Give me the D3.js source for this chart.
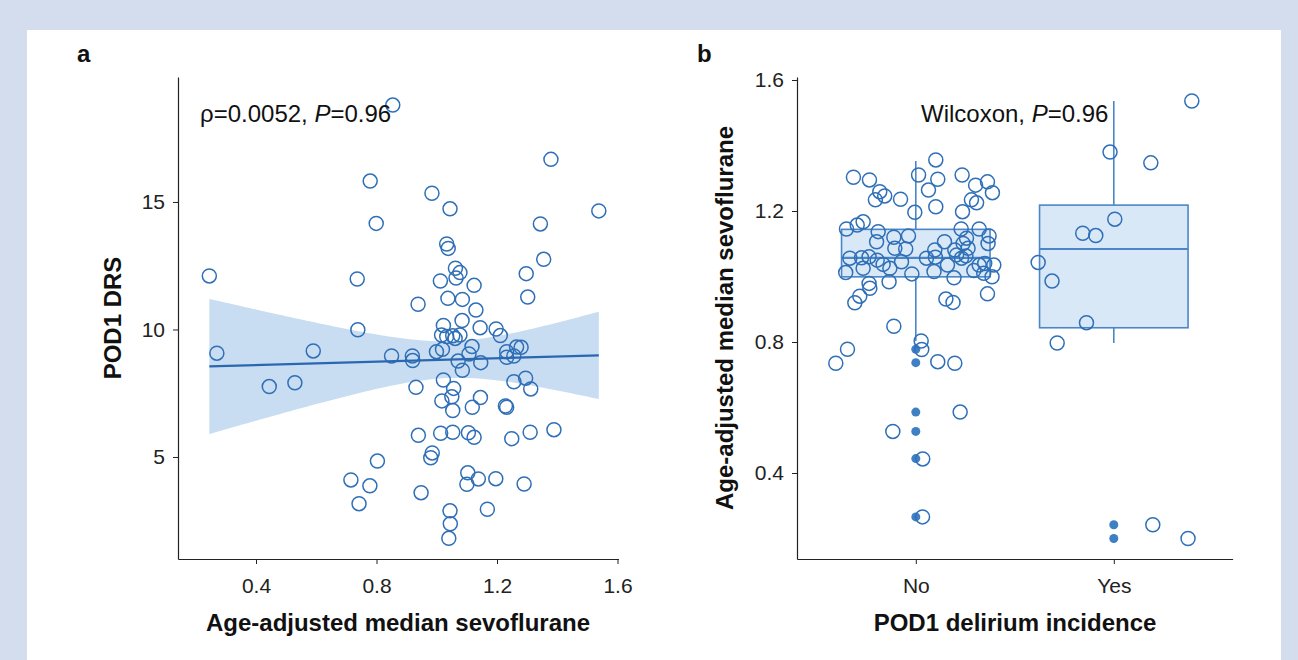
<!DOCTYPE html>
<html><head><meta charset="utf-8">
<script src="https://cdn.jsdelivr.net/npm/d3@7"></script>
<style>body{margin:0;background:#d4ddee;}svg{display:block;font-family:"Liberation Sans",Arial,sans-serif;}</style>
</head><body>
<svg id="c" width="1298" height="660"></svg>
<script>
// ---------- Panel a data ----------
const sevoA = [0.854,1.379,0.779,0.984,1.044,1.538,0.799,1.344,1.033,1.038,1.355,0.245,0.736,1.062,1.077,1.064,1.012,1.124,1.297,1.302,1.037,1.085,0.938,1.130,1.084,0.738,1.022,1.144,1.197,1.211,1.016,1.033,1.053,1.077,1.061,0.270,0.590,0.850,0.919,0.920,0.999,1.019,1.117,1.107,1.071,1.146,1.085,1.232,1.265,1.280,1.256,1.232,0.444,0.529,0.931,1.022,1.056,1.050,1.017,1.053,1.145,1.118,1.256,1.295,1.312,1.228,1.232,0.939,1.013,1.053,1.105,1.124,1.249,1.310,1.389,0.985,0.980,0.803,0.715,0.778,0.742,0.948,1.103,1.100,1.138,1.196,1.290,1.044,1.045,1.040,1.168];
const drsA = [18.80,16.67,15.82,15.34,14.73,14.65,14.16,14.14,13.35,13.18,12.75,12.10,11.98,12.40,12.23,12.02,11.90,11.73,12.19,11.27,11.22,11.18,10.99,10.76,10.35,9.99,10.16,10.07,10.02,9.76,9.78,9.72,9.75,9.78,9.65,9.07,9.16,8.96,8.96,8.78,9.13,9.22,9.33,9.04,8.76,8.70,8.40,9.13,9.31,9.30,8.96,8.91,7.76,7.91,7.73,8.02,7.69,7.36,7.20,6.82,7.33,6.95,7.95,8.09,7.67,7.00,6.95,5.85,5.93,5.97,5.95,5.77,5.72,5.97,6.07,5.16,4.97,4.84,4.10,3.87,3.17,3.60,4.38,3.93,4.14,4.15,3.94,2.89,2.38,1.81,2.95];
// linear fit (intercept, slope) and CI half-width^2 = a + b*(x-c)^2
const fitCoef = [8.468, 0.336];
const ciParams = [0.52, 10.08, 1.048];
const xTicksA = [0.4, 0.8, 1.2, 1.6];
const yTicksA = [5, 10, 15];
const annotA = "ρ=0.0052, ";

// ---------- Panel b data ----------
const groupsB = ["No", "Yes"];
const noJit = [0.101,-0.315,-0.234,0.014,0.111,0.234,0.302,0.362,0.387,-0.182,-0.157,-0.204,-0.077,0.064,0.281,0.307,0.101,-0.005,0.236,-0.350,-0.296,-0.266,-0.190,-0.198,-0.111,-0.037,-0.106,-0.051,0.145,0.229,0.320,0.370,0.365,0.256,0.239,0.264,0.096,0.054,0.099,0.197,0.206,-0.333,-0.274,-0.236,-0.195,-0.165,-0.266,-0.354,-0.072,-0.131,-0.020,0.092,0.160,0.253,0.231,0.293,0.320,0.348,0.394,0.385,0.193,0.343,-0.236,-0.232,-0.135,-0.283,-0.308,0.152,0.188,0.362,-0.111,0.027,0.030,-0.345,-0.404,0.111,0.197,0.224,-0.116,0.035,0.034];
const noVals = [1.356,1.303,1.295,1.310,1.297,1.310,1.279,1.289,1.256,1.259,1.246,1.234,1.236,1.264,1.234,1.225,1.213,1.196,1.198,1.145,1.157,1.167,1.137,1.106,1.120,1.124,1.086,1.084,1.106,1.145,1.145,1.124,1.101,1.117,1.101,1.086,1.081,1.056,1.059,1.081,1.066,1.056,1.057,1.060,1.050,1.037,1.025,1.012,1.045,1.025,1.008,1.015,1.035,1.063,1.056,1.018,1.035,1.040,1.035,0.999,0.996,1.010,0.979,0.964,0.984,0.940,0.920,0.931,0.921,0.947,0.848,0.803,0.777,0.778,0.735,0.740,0.735,0.586,0.527,0.443,0.266];
const yesJit = [0.394,-0.019,0.187,0.005,-0.157,-0.091,-0.382,-0.312,-0.138,-0.286,0.197,0.375];
const yesVals = [1.536,1.380,1.347,1.175,1.132,1.125,1.043,0.986,0.859,0.797,0.242,0.200];
// box stats: [lower whisker, Q1, median, Q3, upper whisker]
const boxNo = [0.803, 0.999, 1.057, 1.144, 1.353];
const boxYes = [0.797, 0.8435, 1.084, 1.218, 1.536];
const outNo = [0.778, 0.737, 0.586, 0.527, 0.444, 0.266];
const outYes = [0.242, 0.200];
const yTicksB = [0.4, 0.8, 1.2, 1.6];

// ---------- styles ----------
const ptStroke = "#2f6fb7", lineCol = "#2a67b1", bandCol = "#c8ddf1";
const boxFill = "#d8e8f6", boxStroke = "#4a86c8", outFill = "#3f80c4";

const svg = d3.select("#c");
svg.append("rect").attr("x",0).attr("y",0).attr("width",1298).attr("height",660).attr("fill","#d4ddee");
svg.append("rect").attr("x",27).attr("y",30).attr("width",1254).attr("height",640).attr("fill","#fff");

const axisCol = "#222";
function fmt1(d){ return d3.format(".1f")(d); }
function styleAxis(a){
  a.select(".domain").attr("stroke",axisCol).attr("stroke-width",1.2);
  a.selectAll(".tick line").attr("stroke",axisCol);
  a.selectAll("text").attr("font-size",21).attr("fill","#222").attr("font-family",'"Liberation Sans",Arial,sans-serif');
}

// ================= Panel a =================
const xA = d3.scaleLinear().domain([0.141, 1.603]).range([178, 618.4]);
const yA = d3.scaleLinear().domain([1.0, 19.9]).range([559, 77]);
const gA = svg.append("g");

// CI band
const xr = d3.extent(sevoA);
const bandXs = d3.range(0, 101).map(i => xr[0] + (xr[1]-xr[0])*i/100);
const fitY = x => fitCoef[0] + fitCoef[1]*x;
const hw = x => Math.sqrt(ciParams[0] + ciParams[1]*(x-ciParams[2])**2);
gA.append("path").datum(bandXs)
  .attr("d", d3.area().x(d=>xA(d)).y0(d=>yA(fitY(d)-hw(d))).y1(d=>yA(fitY(d)+hw(d))))
  .attr("fill", bandCol).attr("stroke","none");

// points
gA.selectAll("circle.p").data(sevoA.map((x,i)=>[x,drsA[i]])).join("circle")
  .attr("cx",d=>xA(d[0])).attr("cy",d=>yA(d[1])).attr("r",7)
  .attr("fill","none").attr("stroke",ptStroke).attr("stroke-width",1.5);

// fit line
gA.append("path").datum(xr)
  .attr("d", d3.line().x(d=>xA(d)).y(d=>yA(fitY(d))))
  .attr("stroke", lineCol).attr("stroke-width",2.2).attr("fill","none");

// axes
styleAxis(gA.append("g").attr("transform","translate(0,559)")
  .call(d3.axisBottom(xA).tickValues(xTicksA).tickFormat(fmt1).tickSizeInner(5).tickSizeOuter(0).tickPadding(14)));
styleAxis(gA.append("g").attr("transform","translate(178,0)")
  .call(d3.axisLeft(yA).tickValues(yTicksA).tickSizeInner(5).tickSizeOuter(0).tickPadding(8)));

gA.append("text").attr("x",398).attr("y",631).attr("text-anchor","middle")
  .attr("font-size",24).attr("font-weight","bold").attr("fill","#111").text("Age-adjusted median sevoflurane");
gA.append("text").attr("transform","translate(121,318) rotate(-90)").attr("text-anchor","middle")
  .attr("font-size",24).attr("font-weight","bold").attr("fill","#111").text("POD1 DRS");
gA.append("text").attr("x",77).attr("y",62).attr("font-size",24).attr("font-weight","bold").attr("fill","#111").text("a");
const tA = gA.append("text").attr("x",200).attr("y",122).attr("font-size",24).attr("fill","#111");
tA.append("tspan").text(annotA);
tA.append("tspan").attr("font-style","italic").text("P");
tA.append("tspan").text("=0.96");

// ================= Panel b =================
const xB = d3.scaleLinear().domain([0.4, 2.6]).range([797, 1232.6]);
const yB = d3.scaleLinear().domain([0.1374, 1.6092]).range([559, 77]);
const gB = svg.append("g");
const boxW = 0.75;
[[1, boxNo, outNo],[2, boxYes, outYes]].forEach(([c, s, outs])=>{
  const g = gB.append("g");
  g.append("line").attr("x1",xB(c)).attr("x2",xB(c)).attr("y1",yB(s[3])).attr("y2",yB(s[4]))
    .attr("stroke",boxStroke).attr("stroke-width",1.6);
  g.append("line").attr("x1",xB(c)).attr("x2",xB(c)).attr("y1",yB(s[1])).attr("y2",yB(s[0]))
    .attr("stroke",boxStroke).attr("stroke-width",1.6);
  g.append("rect").attr("x",xB(c-boxW/2)).attr("width",xB(c+boxW/2)-xB(c-boxW/2))
    .attr("y",yB(s[3])).attr("height",yB(s[1])-yB(s[3]))
    .attr("fill",boxFill).attr("stroke",boxStroke).attr("stroke-width",1.6);
  g.append("line").attr("x1",xB(c-boxW/2)).attr("x2",xB(c+boxW/2)).attr("y1",yB(s[2])).attr("y2",yB(s[2]))
    .attr("stroke",boxStroke).attr("stroke-width",2.2);
  g.selectAll("circle").data(outs).join("circle")
    .attr("cx",xB(c)).attr("cy",d=>yB(d)).attr("r",4.5).attr("fill",outFill);
});
const jitPts = noVals.map((v,i)=>[1+noJit[i], v]).concat(yesVals.map((v,i)=>[2+yesJit[i], v]));
gB.selectAll("circle.j").data(jitPts).join("circle")
  .attr("cx",d=>xB(d[0])).attr("cy",d=>yB(d[1])).attr("r",7)
  .attr("fill","none").attr("stroke",ptStroke).attr("stroke-width",1.5);

styleAxis(gB.append("g").attr("transform","translate(0,559)")
  .call(d3.axisBottom(xB).tickValues([1,2]).tickFormat((d,i)=>groupsB[i]).tickSizeInner(5).tickSizeOuter(0).tickPadding(14)));
styleAxis(gB.append("g").attr("transform","translate(797,0)")
  .call(d3.axisLeft(yB).tickValues(yTicksB).tickFormat(fmt1).tickSizeInner(5).tickSizeOuter(0).tickPadding(8)));
gB.append("text").attr("x",1015).attr("y",631).attr("text-anchor","middle")
  .attr("font-size",24).attr("font-weight","bold").attr("fill","#111").text("POD1 delirium incidence");
gB.append("text").attr("transform","translate(733,318) rotate(-90)").attr("text-anchor","middle")
  .attr("font-size",24).attr("font-weight","bold").attr("fill","#111").text("Age-adjusted median sevoflurane");
gB.append("text").attr("x",697).attr("y",62).attr("font-size",24).attr("font-weight","bold").attr("fill","#111").text("b");
const tB = gB.append("text").attr("x",921).attr("y",122).attr("font-size",24).attr("fill","#111");
tB.append("tspan").text("Wilcoxon, ");
tB.append("tspan").attr("font-style","italic").text("P");
tB.append("tspan").text("=0.96");
</script>
</body></html>
